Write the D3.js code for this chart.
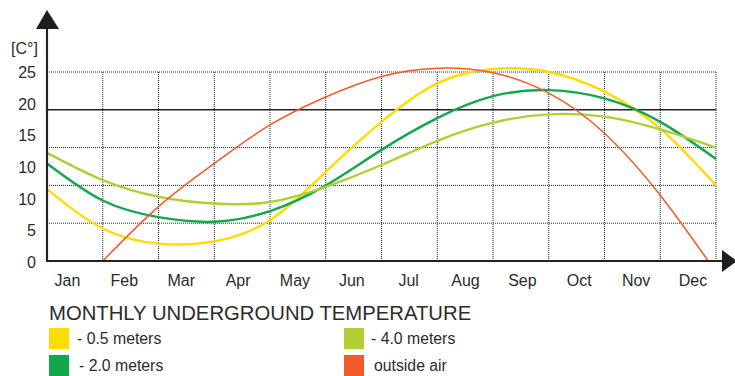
<!DOCTYPE html>
<html lang="en">
<head>
  <meta charset="utf-8">
  <title>Monthly underground temperature</title>
  <script type="text/javascript" src="https://d3js.org/d3.v7.min.js"></script>
  <style type="text/css">
    body { margin: 0; background: #fff; }
    text { font-family: "Liberation Sans", Arial, sans-serif; fill: #2b2b2b; }
  </style>
</head>
<body>
  <script type="text/javascript">

    // month labels and the y tick labels as printed on the original
    const months = ['Jan', 'Feb', 'Mar', 'Apr', 'May', 'Jun', 'Jul', 'Aug', 'Sep', 'Oct', 'Nov', 'Dec']
    const yLabels = ['25', '20', '15', '10', '10', '5', '0']
    const gridTemps = [0, 5, 10, 15, 20, 25]

    // month position (0 = start of Jan, 12 = end of Dec) for each sample
    const monthPos = [0, 1, 2, 3, 4, 5, 6, 7, 8, 9, 10, 11, 12]
    const depth05 = [9.5, 4.3, 2.3, 2.6, 5.4, 11.8, 18.4, 23.5, 25.4, 25.0, 22.4, 17.5, 10.0]
    const depth20 = [12.9, 8.0, 5.8, 5.2, 6.6, 10.0, 14.7, 18.9, 21.8, 22.6, 21.5, 18.4, 13.5]
    const depth40 = [14.3, 10.7, 8.5, 7.6, 7.8, 9.8, 12.7, 15.9, 18.3, 19.4, 19.1, 17.4, 15.0]
    const airPos = [1, 2, 3, 4, 5, 6, 7, 8, 9, 10, 11, 11.86]
    const airTemp = [0, 7.2, 12.9, 18.0, 21.7, 24.4, 25.5, 24.9, 22.2, 16.9, 8.7, 0]

    const series = [
      { name: '- 0.5 meters', color: '#ffdc00', width: 2.4, x: monthPos, y: depth05 },
      { name: '- 2.0 meters', color: '#10a84a', width: 2.4, x: monthPos, y: depth20 },
      { name: '- 4.0 meters', color: '#afcf35', width: 2.4, x: monthPos, y: depth40 },
      { name: 'outside air', color: '#f15a29', width: 1.5, x: airPos, y: airTemp }
    ]

    const svgWidth = 735, svgHeight = 376
    const plotLeft = 47, plotRight = 716, plotTop = 72, plotBottom = 261

    const svg = d3.select('body').append('svg')
      .attr('width', svgWidth)
      .attr('height', svgHeight)

    const x = d3.scaleLinear().domain([0, 12]).range([plotLeft, plotRight])
    const y = d3.scaleLinear().domain([0, 25]).range([plotBottom, plotTop])
    const xLab = d3.scalePoint().domain(months).range([67.5, 693])
    const yLab = d3.scalePoint().domain(d3.range(yLabels.length)).range([72, 262])

    //grid - dotted, except the solid line at 20
    svg.append('g').selectAll('line')
      .data(gridTemps.filter(d => d > 0))
      .enter().append('line')
      .attr('x1', plotLeft).attr('x2', plotRight)
      .attr('y1', d => y(d)).attr('y2', d => y(d))
      .attr('stroke', '#222')
      .attr('stroke-width', d => d == 20 ? 1.6 : 1)
      .attr('stroke-dasharray', d => d == 20 ? null : '1,1')

    svg.append('g').selectAll('line')
      .data(d3.range(1, 13))
      .enter().append('line')
      .attr('x1', d => x(d)).attr('x2', d => x(d))
      .attr('y1', plotTop).attr('y2', plotBottom)
      .attr('stroke', '#222')
      .attr('stroke-width', 1)
      .attr('stroke-dasharray', '1,1')

    //curves
    const line = d3.line().curve(d3.curveNatural)
    svg.append('g').selectAll('path')
      .data(series)
      .enter().append('path')
      .attr('d', s => line(s.x.map((v, i) => [x(v), y(s.y[i])])))
      .attr('fill', 'none')
      .attr('stroke', s => s.color)
      .attr('stroke-width', s => s.width)

    //axes with arrows
    svg.append('line')
      .attr('x1', plotLeft).attr('x2', plotLeft)
      .attr('y1', 26).attr('y2', plotBottom + 1)
      .attr('stroke', '#222').attr('stroke-width', 2.2)
    svg.append('line')
      .attr('x1', plotLeft - 1).attr('x2', 724)
      .attr('y1', plotBottom).attr('y2', plotBottom)
      .attr('stroke', '#222').attr('stroke-width', 2.2)
    svg.append('path')
      .attr('d', `M${plotLeft},10 L${plotLeft - 11},29 L${plotLeft + 12},29 Z`)
      .attr('fill', '#1e1e1e')
    svg.append('path')
      .attr('d', `M722,250 L737,261 L722,272 Z`)
      .attr('fill', '#1e1e1e')

    //tick labels
    svg.append('g').selectAll('text')
      .data(yLabels)
      .enter().append('text')
      .attr('x', 36)
      .attr('y', (d, i) => yLab(i) + 6)
      .attr('text-anchor', 'end')
      .style('font-size', '16px')
      .text(d => d)

    svg.append('text')
      .attr('x', 11).attr('y', 54)
      .style('font-size', '16px')
      .text('[C°]')

    svg.append('g').selectAll('text')
      .data(months)
      .enter().append('text')
      .attr('x', d => xLab(d))
      .attr('y', 286)
      .attr('text-anchor', 'middle')
      .style('font-size', '16px')
      .text(d => d)

    //legend
    svg.append('text')
      .attr('x', 49).attr('y', 319.5)
      .style('font-size', '20.3px')
      .text('MONTHLY UNDERGROUND TEMPERATURE')

    const legendPos = [[49, 328, 77], [49, 355, 79], [344, 328, 371], [344, 355, 374]]
    const legend = svg.append('g').selectAll('g')
      .data(series)
      .enter().append('g')
    legend.append('rect')
      .attr('x', (d, i) => legendPos[i][0])
      .attr('y', (d, i) => legendPos[i][1])
      .attr('width', 20).attr('height', 21)
      .attr('fill', d => d.color)
    legend.append('text')
      .attr('x', (d, i) => legendPos[i][2])
      .attr('y', (d, i) => legendPos[i][1] + 15.5)
      .style('font-size', '15.8px')
      .text(d => d.name)

  </script>
</body>
</html>
